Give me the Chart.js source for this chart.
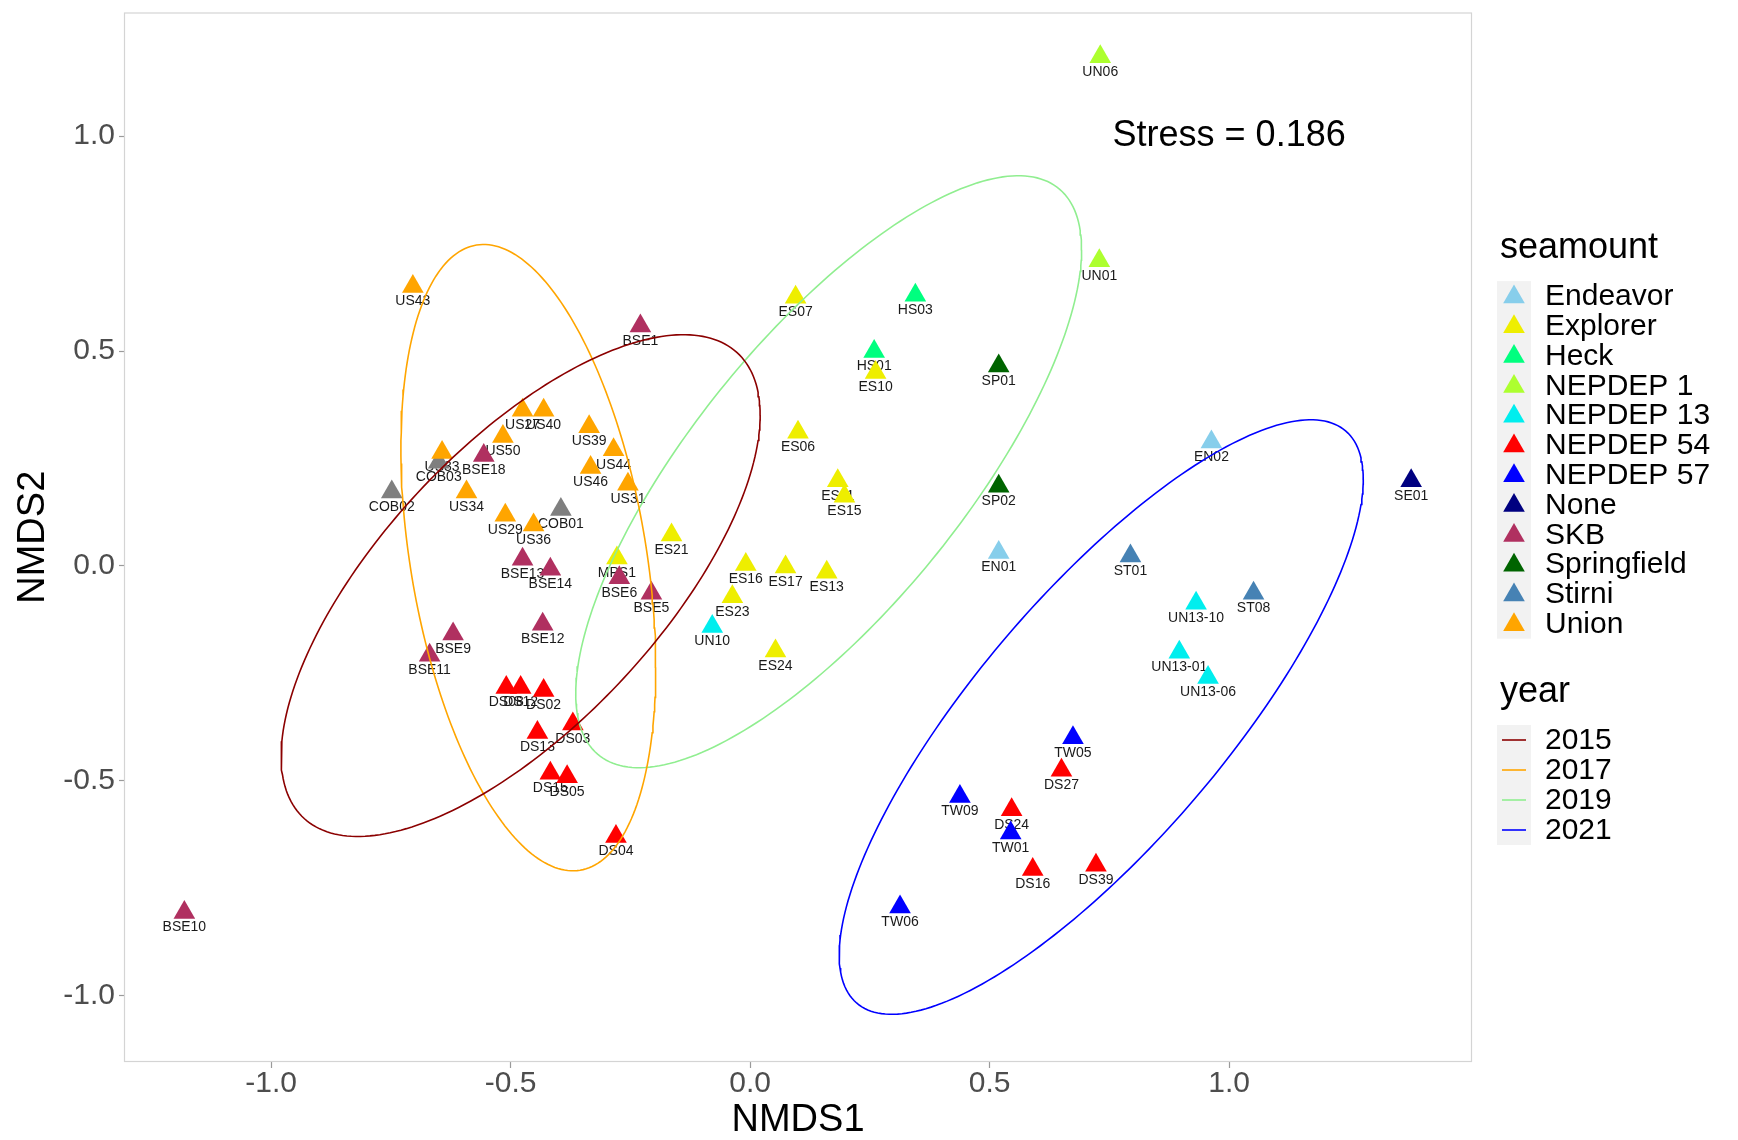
<!DOCTYPE html>
<html><head><meta charset="utf-8">
<script src="https://cdn.jsdelivr.net/npm/chart.js@4/dist/chart.umd.min.js"></script>
<style>html,body{margin:0;padding:0;background:#fff;}#wrap{position:relative;width:1738px;height:1140px;}</style>
</head><body><div id="wrap"><canvas id="c" width="1738" height="1140"></canvas></div>
<script>
// ---------- data ----------
const sampleIds = ['UN06','UN01','US43','BSE1','ES07','HS03','HS01','ES10','SP01','US27','US40','US39','US50','US44','US46','US31','ES06','US33','COB03','BSE18','COB02','US34','US29','US36','COB01','ES21','BSE13','BSE14','MPS1','BSE6','BSE5','ES16','ES17','ES13','ES23','UN10','ES24','ES11','ES15','SP02','EN01','EN02','SE01','ST01','ST08','UN13-10','UN13-01','UN13-06','TW05','DS27','TW09','DS24','TW01','DS16','DS39','TW06','BSE10','BSE9','BSE11','BSE12','DS08','DS12','DS02','DS03','DS13','DS15','DS05','DS04'];
const nmds1 = [0.731,0.729,-0.704,-0.229,0.095,0.345,0.259,0.262,0.519,-0.475,-0.431,-0.336,-0.516,-0.285,-0.333,-0.255,0.100,-0.643,-0.650,-0.556,-0.748,-0.592,-0.511,-0.452,-0.395,-0.164,-0.475,-0.417,-0.278,-0.273,-0.206,-0.009,0.074,0.160,-0.037,-0.079,0.053,0.183,0.197,0.519,0.519,0.963,1.380,0.794,1.051,0.931,0.896,0.956,0.674,0.650,0.438,0.546,0.544,0.590,0.722,0.313,-1.181,-0.620,-0.669,-0.433,-0.509,-0.479,-0.431,-0.370,-0.444,-0.417,-0.382,-0.280];
const nmds2 = [1.185,0.710,0.650,0.558,0.625,0.630,0.499,0.450,0.465,0.362,0.362,0.324,0.301,0.270,0.229,0.190,0.311,0.264,0.241,0.257,0.172,0.172,0.118,0.095,0.131,0.072,0.015,-0.008,0.018,-0.028,-0.064,0.003,-0.003,-0.015,-0.072,-0.141,-0.198,0.198,0.162,0.185,0.031,0.288,0.198,0.023,-0.064,-0.087,-0.201,-0.260,-0.400,-0.476,-0.537,-0.568,-0.622,-0.707,-0.697,-0.794,-0.807,-0.159,-0.208,-0.136,-0.283,-0.283,-0.290,-0.368,-0.388,-0.483,-0.491,-0.630];
const seamountOf = ['NEPDEP 1','NEPDEP 1','Union','SKB','Explorer','Heck','Heck','Explorer','Springfield','Union','Union','Union','Union','Union','Union','Union','Explorer','Union',null,'SKB',null,'Union','Union','Union',null,'Explorer','SKB','SKB','Explorer','SKB','SKB','Explorer','Explorer','Explorer','Explorer','NEPDEP 13','Explorer','Explorer','Explorer','Springfield','Endeavor','Endeavor','None','Stirni','Stirni','NEPDEP 13','NEPDEP 13','NEPDEP 13','NEPDEP 57','NEPDEP 54','NEPDEP 57','NEPDEP 54','NEPDEP 57','NEPDEP 54','NEPDEP 54','NEPDEP 57','SKB','SKB','SKB','SKB','NEPDEP 54','NEPDEP 54','NEPDEP 54','NEPDEP 54','NEPDEP 54','NEPDEP 54','NEPDEP 54','NEPDEP 54'];
const seamountLevels = ['Endeavor','Explorer','Heck','NEPDEP 1','NEPDEP 13','NEPDEP 54','NEPDEP 57','None','SKB','Springfield','Stirni','Union'];
const seamountColors = ['#87CEEB','#EEEE00','#00FF7F','#ADFF2F','#00EEEE','#FF0000','#0000FF','#000080','#B03060','#006400','#4682B4','#FFA500'];
const naColor = '#7F7F7F';
const years = ['2015','2017','2019','2021'];
const yearColors = ['#8B0000','#FFA500','#90EE90','#0000FF'];
// ellipse parameters per year: centre, half-extent in x and y, correlation
const ellCx = [-0.479,-0.463,0.164,0.733];
const ellCy = [-0.046,0.019,0.219,-0.352];
const ellSx = [0.500,0.266,0.528,0.547];
const ellSy = [0.584,0.729,0.689,0.692];
const ellRho = [0.68,-0.35,0.75,0.80];
const xTicks = [-1.0,-0.5,0.0,0.5,1.0];
const yTicks = [-1.0,-0.5,0.0,0.5,1.0];
const stressText = 'Stress = 0.186';
const stressPos = [1.0, 1.0];

// ---------- build datasets ----------
const FONT = '"Liberation Sans", Arial, sans-serif';
const datasets = [];
years.forEach((yr, k) => {
  const pts = [];
  const r = Math.sqrt(1 - ellRho[k]*ellRho[k]);
  for (let i = 0; i <= 240; i++) {
    const t = i / 240 * 2 * Math.PI;
    pts.push({x: ellCx[k] + ellSx[k]*Math.cos(t), y: ellCy[k] + ellSy[k]*(ellRho[k]*Math.cos(t) + r*Math.sin(t))});
  }
  datasets.push({label: yr, data: pts, showLine: true, pointRadius: 0, pointHoverRadius: 0, borderColor: yearColors[k], borderWidth: 1.6, fill: false, tension: 0, order: 0});
});
seamountLevels.forEach((lv, k) => {
  const pts = [];
  sampleIds.forEach((id, i) => { if (seamountOf[i] === lv) pts.push({x: nmds1[i], y: nmds2[i]}); });
  datasets.push({label: lv, data: pts, pointStyle: 'triangle', pointRadius: 12.5, pointHoverRadius: 12.5, borderWidth: 0, backgroundColor: seamountColors[k], showLine: false, order: 1});
});
{
  const pts = [];
  sampleIds.forEach((id, i) => { if (seamountOf[i] === null) pts.push({x: nmds1[i], y: nmds2[i]}); });
  datasets.push({label: 'NA', data: pts, pointStyle: 'triangle', pointRadius: 12.5, pointHoverRadius: 12.5, borderWidth: 0, backgroundColor: naColor, showLine: false, order: 2});
}

const labelPlugin = {
  id: 'labels',
  beforeDatasetsDraw(chart) {
    const ctx = chart.ctx, xs = chart.scales.x, ys = chart.scales.y;
    ctx.save();
    ctx.font = '14px ' + FONT;
    ctx.fillStyle = '#1A1A1A';
    ctx.textAlign = 'center';
    ctx.textBaseline = 'middle';
    sampleIds.forEach((id, i) => {
      ctx.fillText(id, xs.getPixelForValue(nmds1[i]), ys.getPixelForValue(nmds2[i]) + 15);
    });
    ctx.restore();
  },
  afterDraw(chart) {
    const ctx = chart.ctx, a = chart.chartArea, xs = chart.scales.x, ys = chart.scales.y;
    ctx.save();
    // panel border
    ctx.strokeStyle = '#D4D4D4';
    ctx.lineWidth = 1.2;
    ctx.strokeRect(a.left + 0.5, a.top + 0.5, a.right - a.left - 1, a.bottom - a.top - 1);
    // stress annotation
    ctx.font = '36px ' + FONT;
    ctx.fillStyle = '#000';
    ctx.textAlign = 'center';
    ctx.textBaseline = 'middle';
    ctx.fillText(stressText, xs.getPixelForValue(stressPos[0]), ys.getPixelForValue(stressPos[1]));
    // legend: seamount
    ctx.textAlign = 'left';
    ctx.textBaseline = 'alphabetic';
    ctx.font = '36px ' + FONT;
    ctx.fillText('seamount', 1500, 258);
    const step = 29.8, y0 = 296;
    ctx.fillStyle = '#F2F2F2';
    ctx.fillRect(1497, y0 - step/2, 34, step * seamountLevels.length);
    seamountLevels.forEach((lv, k) => {
      const y = y0 + k*step;
      const r = 12.5, cx = 1514, cy = y + 1;
      ctx.beginPath();
      for (let j = 0; j < 3; j++) {
        const ang = j * 2 * Math.PI / 3;
        const px = cx + Math.sin(ang)*r, py = cy - Math.cos(ang)*r;
        if (j === 0) ctx.moveTo(px, py); else ctx.lineTo(px, py);
      }
      ctx.closePath();
      ctx.fillStyle = seamountColors[k];
      ctx.fill();
      ctx.fillStyle = '#000';
      ctx.font = '30px ' + FONT;
      ctx.textBaseline = 'middle';
      ctx.fillText(lv, 1545, y + 1);
    });
    // legend: year
    ctx.textBaseline = 'alphabetic';
    ctx.font = '36px ' + FONT;
    ctx.fillText('year', 1500, 702);
    const y1 = 740;
    ctx.fillStyle = '#F2F2F2';
    ctx.fillRect(1497, y1 - 15, 34, 30 * years.length);
    years.forEach((yr, k) => {
      const y = y1 + k*30;
      ctx.strokeStyle = yearColors[k];
      ctx.lineWidth = 1.6;
      ctx.beginPath(); ctx.moveTo(1502, y); ctx.lineTo(1526, y); ctx.stroke();
      ctx.fillStyle = '#000';
      ctx.font = '30px ' + FONT;
      ctx.textBaseline = 'middle';
      ctx.fillText(yr, 1545, y + 1);
    });
    ctx.restore();
  }
};

new Chart(document.getElementById('c'), {
  type: 'scatter',
  data: {datasets},
  options: {
    responsive: false,
    animation: false,
    devicePixelRatio: 1,
    events: [],
    layout: {padding: {left: 0, top: 9, right: 266, bottom: 0}},
    plugins: {legend: {display: false}, tooltip: {enabled: false}},
    scales: {
      x: {
        type: 'linear', min: -1.307, max: 1.507,
        afterBuildTicks: s => { s.ticks = xTicks.map(v => ({value: v})); },
        afterFit: s => { s.height = 78; s.paddingLeft = 0; s.paddingRight = 0; },
        ticks: {callback: v => Number(v).toFixed(1), font: {size: 30, family: FONT}, color: '#4D4D4D', padding: -2, maxRotation: 0},
        grid: {drawOnChartArea: false, tickLength: 6, tickColor: '#9A9A9A', tickWidth: 1.2},
        border: {display: false},
        title: {display: true, text: 'NMDS1', font: {size: 38, family: FONT, lineHeight: 1.0}, color: '#000', padding: {top: 0, bottom: 0}}
      },
      y: {
        type: 'linear', min: -1.155, max: 1.288,
        afterBuildTicks: s => { s.ticks = yTicks.map(v => ({value: v})); },
        afterFit: s => { s.width = 124; s.paddingTop = 0; s.paddingBottom = 0; },
        ticks: {callback: v => Number(v).toFixed(1), font: {size: 30, family: FONT}, color: '#4D4D4D', padding: 4},
        grid: {drawOnChartArea: false, tickLength: 5, tickColor: '#9A9A9A', tickWidth: 1.2},
        border: {display: false},
        title: {display: true, text: 'NMDS2', font: {size: 38, family: FONT}, color: '#000', padding: {top: 11, bottom: 0}}
      }
    }
  },
  plugins: [labelPlugin]
});
</script></body></html>
